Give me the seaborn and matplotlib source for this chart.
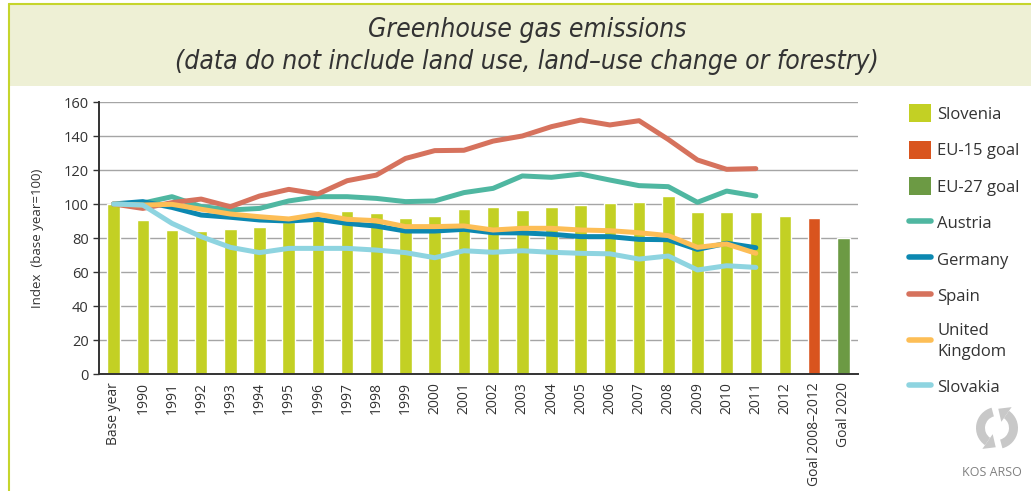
import numpy as np
import pandas as pd
import seaborn as sns
import matplotlib.pyplot as plt
from matplotlib import font_manager as fm
from matplotlib.patches import Rectangle, Patch, Wedge, Polygon
from matplotlib.lines import Line2D

# categories on the x axis
categories = ['Base year'] + [str(y) for y in range(1990, 2013)] + ['Goal 2008–2012', 'Goal 2020']

# Slovenia index (bars), base year .. 2012
slovenia = [100, 90.6, 84.7, 84.1, 85.3, 86.7, 89.6, 91.0, 95.9, 94.7, 91.8, 92.9,
            97.1, 98.2, 96.5, 98.2, 99.4, 100.6, 101.2, 104.7, 95.3, 95.3, 95.3, 92.9]
eu15_goal = 92
eu27_goal = 80

# country lines, base year .. 2011
austria = [100, 100.5, 104.3, 98.5, 96.5, 97.4, 101.8, 104.3, 104.3, 103.3, 101.4, 101.8,
           106.7, 109.2, 116.5, 115.7, 117.6, 114.1, 110.8, 110.2, 101.0, 107.6, 104.7]
germany = [100, 101.4, 98.0, 93.5, 92.2, 90.6, 90.0, 91.0, 88.6, 87.0, 84.1, 84.1,
           85.1, 83.1, 83.0, 82.2, 80.8, 80.8, 79.2, 79.0, 73.3, 76.9, 74.3]
spain = [100, 97.4, 100.8, 102.9, 98.4, 104.7, 108.6, 105.9, 113.7, 117.0, 126.8, 131.4,
         131.6, 137.0, 140.0, 145.5, 149.4, 146.5, 149.0, 138.0, 125.9, 120.4, 120.8]
united_kingdom = [100, 99.4, 99.8, 96.9, 94.1, 92.5, 91.2, 93.9, 91.0, 90.2, 86.7, 86.7,
                  87.1, 84.7, 85.7, 85.7, 84.7, 84.3, 83.1, 81.4, 74.5, 76.5, 71.0]
slovakia = [100, 99.4, 88.6, 80.8, 74.5, 71.4, 73.9, 73.9, 73.9, 72.9, 71.4, 68.4,
            72.5, 71.6, 72.5, 71.6, 71.0, 70.7, 67.6, 69.4, 61.2, 63.7, 62.7]

bar_colors = {'Slovenia': '#C3D024', 'EU-15 goal': '#D9541E', 'EU-27 goal': '#6C9A44'}
line_colors = {'Austria': '#4FB7A1', 'Germany': '#0C88B1', 'Spain': '#D6725D',
               'United Kingdom': '#FDBE56', 'Slovakia': '#8ED4E0'}

bars = pd.DataFrame({
    'category': categories,
    'value': slovenia + [eu15_goal, eu27_goal],
    'series': ['Slovenia'] * len(slovenia) + ['EU-15 goal', 'EU-27 goal'],
})

series = {'Austria': austria, 'Germany': germany, 'Spain': spain,
          'United Kingdom': united_kingdom, 'Slovakia': slovakia}
rows = []
for name, vals in series.items():
    for i, v in enumerate(vals):
        rows.append({'pos': i, 'value': v, 'country': name})
lines = pd.DataFrame(rows)

sns.set_style('white')
plt.rcParams['font.family'] = ['Open Sans', 'DejaVu Sans']
text_col = '#333333'

# narrow italic face for the title, if there is one
names = {f.name for f in fm.fontManager.ttflist}
title_fam = [n for n in ['Liberation Sans Narrow', 'DejaVu Sans Condensed'] if n in names]
title_fam = title_fam + ['DejaVu Sans']

fig = plt.figure(figsize=(10.31, 4.91), dpi=100)
ax = fig.add_axes([99 / 1031, 1 - 374 / 491, (858 - 99) / 1031, (374 - 102) / 491])

# frame decoration: title band and thin green border
fig.patches.append(Rectangle((9 / 1031, 1 - 86 / 491), 1, 82 / 491, transform=fig.transFigure,
                             facecolor='#EEF0D5', edgecolor='none', zorder=0))
fig.add_artist(Line2D([9 / 1031, 1], [1 - 4 / 491] * 2, transform=fig.transFigure,
                      color='#C6D52C', lw=1.5))
fig.add_artist(Line2D([9 / 1031] * 2, [0, 1 - 4 / 491], transform=fig.transFigure,
                      color='#C6D52C', lw=1.5))

for txt, ypx in [('Greenhouse gas emissions', 30),
                 ('(data do not include land use, land–use change or forestry)', 62)]:
    fig.text(527 / 1031, 1 - ypx / 491, txt, ha='center', va='center', fontsize=19,
             style='italic', stretch='condensed', family=title_fam, color=text_col)

sns.barplot(data=bars, x='category', y='value', hue='series', palette=bar_colors,
            width=0.43, saturation=1, dodge=False, legend=False, ax=ax, zorder=2)

sns.lineplot(data=lines, x='pos', y='value', hue='country', palette=line_colors,
             linewidth=3.6, legend=False, ax=ax, zorder=3, sort=False)
for ln in ax.lines:
    ln.set_solid_capstyle('round')
    ln.set_solid_joinstyle('round')

ax.set_xlim(-0.5, len(categories) - 0.5)
ax.set_ylim(0, 160)
ax.set_yticks(np.arange(0, 161, 20))
ax.yaxis.grid(True, color='#A5A5A5', lw=1)
ax.set_axisbelow(True)
ax.set_xlabel('')
ax.set_ylabel('Index  (base year=100)', fontsize=9.5, color=text_col)
ax.yaxis.set_label_coords(-0.072, 0.5)

ax.set_xticks(range(len(categories)))
ax.set_xticklabels(categories, rotation=90, fontsize=10, color=text_col)
ax.set_xticks(np.arange(-0.5, len(categories)), minor=True)
ax.tick_params(axis='x', which='major', length=0, pad=6)
ax.tick_params(axis='x', which='minor', length=5, width=1, color=text_col, direction='out')
ax.tick_params(axis='y', length=4, width=1, color=text_col, direction='out', labelsize=10.5,
               labelcolor=text_col, left=True)

sns.despine(ax=ax)
for s in ['left', 'bottom']:
    ax.spines[s].set_color(text_col)
    ax.spines[s].set_linewidth(1.4)

handles = [Patch(facecolor=c, edgecolor='none') for c in bar_colors.values()]
handles += [Line2D([], [], color=c, lw=4, solid_capstyle='round') for c in line_colors.values()]
labels = list(bar_colors.keys()) + ['Austria', 'Germany', 'Spain', 'United\nKingdom', 'Slovakia']
leg = fig.legend(handles, labels, loc='upper left', bbox_to_anchor=(909 / 1031, 1 - 104 / 491),
                 frameon=False, fontsize=12, handlelength=1.3, handleheight=1.3,
                 handletextpad=0.4, labelspacing=1.07, borderpad=0, borderaxespad=0,
                 labelcolor=text_col)
for t in leg.get_texts():
    t.set_linespacing(1.4)

# logo: grey circular arrows
inch = fig.dpi_scale_trans
cx, cy, r = 9.97, (491 - 428) / 100, 0.21
for a0, a1 in [(105, 235), (285, 55)]:
    fig.patches.append(Wedge((cx, cy), r, a0, a1, width=0.09, transform=inch,
                             facecolor='#C8C8C8', edgecolor='none'))
for ang in [235, 55]:
    t = np.deg2rad(ang)
    ox, oy = cx + (r - 0.045) * np.cos(t), cy + (r - 0.045) * np.sin(t)
    tx, ty = -np.sin(t), np.cos(t)
    nx, ny = np.cos(t), np.sin(t)
    pts = [(ox + 0.09 * nx, oy + 0.09 * ny), (ox - 0.09 * nx, oy - 0.09 * ny),
           (ox + 0.1 * tx, oy + 0.1 * ty)]
    fig.patches.append(Polygon(pts, closed=True, transform=inch, facecolor='#C8C8C8',
                               edgecolor='none'))
fig.text(992 / 1031, 1 - 473 / 491, 'KOS ARSO', ha='center', va='center', fontsize=9,
         color='#808080')

fig.savefig('out.png', dpi=100)
